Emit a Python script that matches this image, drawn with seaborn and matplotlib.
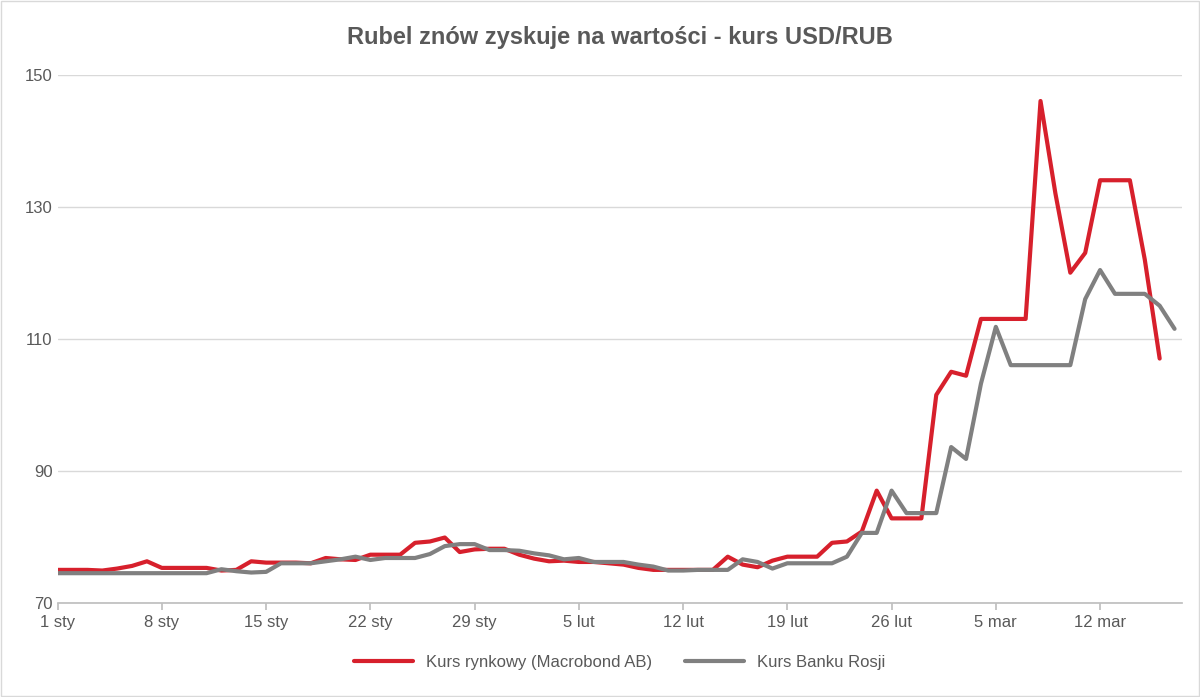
import matplotlib
matplotlib.use("Agg")
import matplotlib.pyplot as plt
import seaborn as sns
import pandas as pd

market = [75, 75, 75, 74.9, 75.2, 75.6, 76.3, 75.3, 75.3, 75.3, 75.3, 74.9, 75, 76.3, 76.1,
          76.1, 76.1, 76, 76.8, 76.6, 76.5, 77.3, 77.3, 77.3, 79.1, 79.3, 79.9, 77.7, 78.1, 78.2,
          78.2, 77.3, 76.7, 76.3, 76.4, 76.2, 76.2, 76, 75.8, 75.3, 75, 75, 75, 75, 75,
          77, 75.8, 75.4, 76.4, 77, 77, 77, 79.1, 79.3, 80.8, 87, 82.8, 82.8, 82.8, 101.5,
          105, 104.4, 113, 113, 113, 113, 146, 132, 120, 123, 134, 134, 134, 122, 107]
cbr = [74.5] * 11 + [75.1, 74.8, 74.6, 74.7, 76, 76, 76, 76.3, 76.6, 77, 76.5, 76.8, 76.8, 76.8,
       77.4, 78.6, 78.9, 78.9, 78, 78, 77.9, 77.5, 77.2, 76.6, 76.8, 76.2, 76.2, 76.2, 75.8,
       75.5, 74.9, 74.9, 75, 75, 75, 76.6, 76.2, 75.2, 76, 76, 76, 76, 77, 80.6,
       80.6, 87, 83.6, 83.6, 83.6, 93.6, 91.8, 103.2, 111.8, 106, 106, 106, 106, 106, 116,
       120.4, 116.8, 116.8, 116.8, 115, 111.5]
tick_days = [0, 7, 14, 21, 28, 35, 42, 49, 56, 63, 70]
tick_labels = ["1 sty", "8 sty", "15 sty", "22 sty", "29 sty", "5 lut", "12 lut",
               "19 lut", "26 lut", "5 mar", "12 mar"]

df = pd.concat([
    pd.DataFrame({"day": range(len(market)), "val": market, "s": "Kurs rynkowy (Macrobond AB)"}),
    pd.DataFrame({"day": range(len(cbr)), "val": cbr, "s": "Kurs Banku Rosji"}),
])

sns.set_theme(style="white")
plt.rcParams["font.family"] = ["Liberation Sans", "DejaVu Sans"]
fig, ax = plt.subplots(figsize=(12, 6.97), dpi=100)
fig.subplots_adjust(left=0.048, right=0.985, top=0.893, bottom=0.135)
sns.lineplot(data=df, x="day", y="val", hue="s", ax=ax, linewidth=3,
             palette=["#d7202c", "#808080"])
ax.set_ylim(70, 150)
ax.set_yticks([70, 90, 110, 130, 150])
ax.set_xlim(0, 75.5)
ax.set_xticks(tick_days)
ax.set_xticklabels(tick_labels)
ax.set_xlabel("")
ax.set_ylabel("")
ax.grid(axis="y", color="#d9d9d9", linewidth=1)
for s in ["top", "right", "left"]:
    ax.spines[s].set_visible(False)
ax.spines["bottom"].set_color("#bfbfbf")
ax.tick_params(axis="x", length=5, color="#bfbfbf", bottom=True, labelsize=12, colors="#595959")
ax.tick_params(axis="y", length=0, labelsize=12, colors="#595959")
ax.set_title("Rubel znów zyskuje na wartości - kurs USD/RUB", fontsize=17,
             fontweight="bold", color="#595959", pad=22)
ax.legend(loc="upper center", bbox_to_anchor=(0.5, -0.07), ncol=2, frameon=False,
          fontsize=12, labelcolor="#595959", handlelength=3.5)
fig.patches.append(plt.Rectangle((0.001, 0.001), 0.998, 0.998, transform=fig.transFigure,
                                 fill=False, edgecolor="#d9d9d9", linewidth=1))
fig.savefig("out.png")
